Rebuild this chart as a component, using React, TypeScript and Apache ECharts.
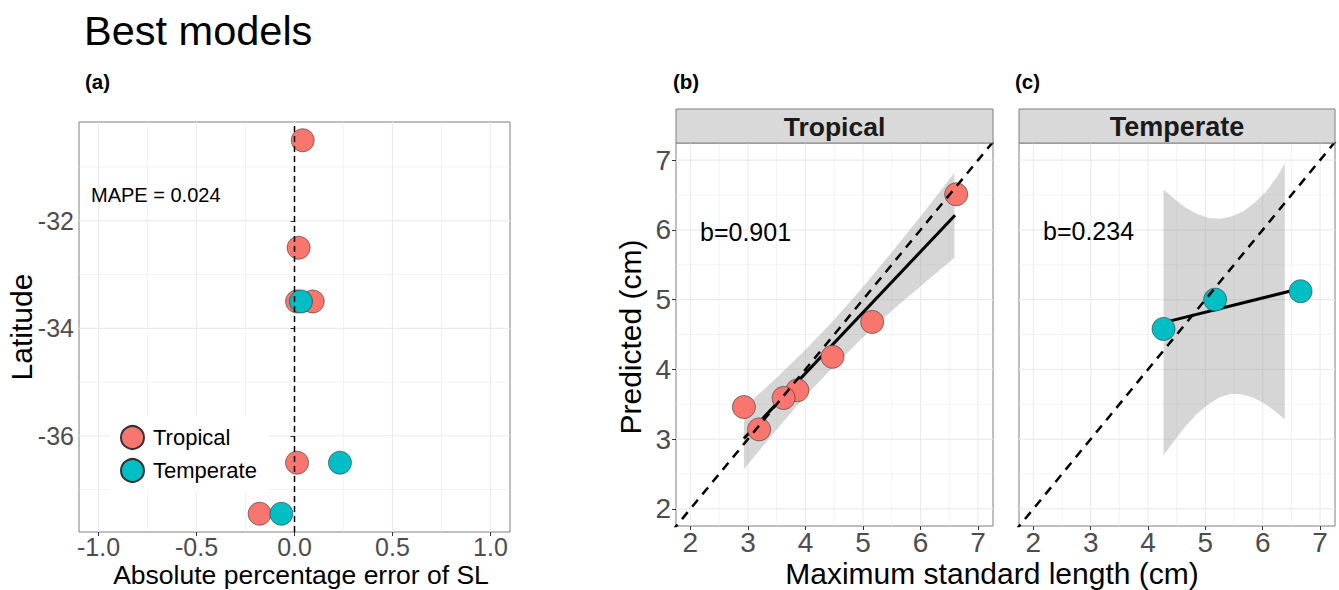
import React, { useEffect, useRef } from "react";
import * as echarts from "echarts";

const FONT = "'Liberation Sans', Arial, Helvetica, sans-serif";
const TROP = "#F8766D";
const TEMP = "#00BFC4";

// ---------- Panel (a) ----------
const aTropicalError = [0.042, 0.021, 0.013, 0.093, 0.013, -0.178];
const aTropicalLat = [-30.5, -32.5, -33.5, -33.5, -36.5, -37.45];
const aTemperateError = [0.033, 0.232, -0.067];
const aTemperateLat = [-33.5, -36.5, -37.45];
const aXRange = [-1.1, 1.1];
const aYRange = [-37.79, -30.16];
const aXTicks = [-1, -0.5, 0, 0.5, 1];
const aXMinor = [-0.75, -0.25, 0.25, 0.75];
const aYTicks = [-36, -34, -32];
const aYMinor = [-37, -35, -33, -31];
const aZeroLine = 0;

// ---------- Panel (b) Tropical ----------
const bObserved = [2.93, 3.195, 3.86, 3.62, 4.47, 5.16, 6.62];
const bPredicted = [3.46, 3.14, 3.7, 3.59, 4.18, 4.68, 6.51];
const bFitX = [2.93, 6.6];
const bFitY = [3.01, 6.21];
const bBandX = [2.93, 3.5, 4.0, 4.5, 5.0, 5.5, 6.0, 6.59];
const bBandUpper = [3.45, 3.88, 4.28, 4.71, 5.18, 5.68, 6.19, 6.82];
const bBandLower = [2.57, 3.14, 3.62, 4.05, 4.46, 4.84, 5.19, 5.6];

// ---------- Panel (c) Temperate ----------
const cObserved = [4.27, 5.17, 6.66];
const cPredicted = [4.58, 5.0, 5.12];
const cFitX = [4.27, 6.66];
const cFitY = [4.67, 5.16];
const cBandX = [4.27, 4.45, 4.65, 4.85, 5.05, 5.25, 5.45, 5.65, 5.85, 6.05, 6.25, 6.385];
const cBandUpper = [6.58, 6.45, 6.32, 6.23, 6.17, 6.16, 6.19, 6.26, 6.38, 6.54, 6.76, 6.95];
const cBandLower = [2.77, 2.97, 3.18, 3.36, 3.5, 3.6, 3.65, 3.64, 3.59, 3.5, 3.38, 3.28];

// shared length axes
const lenXRange = [1.75, 7.26];
const lenYRange = [1.755, 7.245];
const lenTicks = [2, 3, 4, 5, 6, 7];
const lenMinor = [2.5, 3.5, 4.5, 5.5, 6.5];
const identityEnds = [1.5, 7.5];

const gridLineSeries = (idx: number, vx: number[], vxMinor: number[], vy: number[], vyMinor: number[]) => ({
  type: "custom",
  xAxisIndex: idx,
  yAxisIndex: idx,
  z: 0,
  silent: true,
  data: [
    ...vx.map((v) => [v, 1, 0]),
    ...vxMinor.map((v) => [v, 0, 0]),
    ...vy.map((v) => [v, 1, 1]),
    ...vyMinor.map((v) => [v, 0, 1]),
  ],
  renderItem: (params: any, api: any) => {
    const cs = params.coordSys;
    const v = api.value(0);
    const major = api.value(1);
    const horiz = api.value(2);
    const p = api.coord([v, v]);
    const shape = horiz
      ? { x1: cs.x, y1: p[1], x2: cs.x + cs.width, y2: p[1] }
      : { x1: p[0], y1: cs.y, x2: p[0], y2: cs.y + cs.height };
    return {
      type: "line",
      shape,
      style: { stroke: "#EBEBEB", lineWidth: major ? 1.1 : 0.6 },
    };
  },
});

const ribbonSeries = (idx: number, xs: number[], up: number[], lo: number[]) => ({
  type: "custom",
  xAxisIndex: idx,
  yAxisIndex: idx,
  z: 1,
  silent: true,
  data: xs.map((x, i) => [x, up[i], lo[i]]),
  renderItem: (params: any, api: any) => {
    if (params.dataIndex !== 0) return null;
    const pts: number[][] = [];
    for (let i = 0; i < xs.length; i++) pts.push(api.coord([xs[i], up[i]]));
    for (let i = xs.length - 1; i >= 0; i--) pts.push(api.coord([xs[i], lo[i]]));
    return {
      type: "polygon",
      shape: { points: pts },
      style: { fill: "rgba(153,153,153,0.4)" },
    };
  },
});

const axisCommon = (
  ticks: number[],
  fmt: (v: number) => string,
  size: number,
  margin: number,
  showLabels = true
) => ({
  type: "value",
  axisLine: { show: false },
  splitLine: { show: false },
  axisTick: {
    show: showLabels,
    length: 4,
    customValues: ticks,
    lineStyle: { color: "#333333", width: 1 },
  },
  axisLabel: {
    show: showLabels,
    customValues: ticks,
    formatter: (v: number) => fmt(v),
    fontSize: size,
    lineHeight: size - 1,
    color: "#4D4D4D",
    fontFamily: FONT,
    margin,
  },
});

const gridStyle = {
  show: true,
  borderColor: "#7f7f7f",
  borderWidth: 1,
  backgroundColor: "#fff",
  containLabel: false,
  outerBoundsMode: "none",
};

const scatterStyle = (color: string) => ({
  color,
  opacity: 1,
  borderColor: "#333333",
  borderWidth: 0.6,
});

const text = (t: string, x: number, y: number, size: number, opts: any = {}) => ({
  type: "text",
  x,
  y,
  rotation: opts.rotation || 0,
  z: 100,
  style: {
    text: t,
    fontSize: size,
    lineHeight: Math.round(size * 0.92),
    fontFamily: FONT,
    fontWeight: opts.bold ? "bold" : "normal",
    fill: opts.fill || "#000",
    align: opts.align || "left",
    verticalAlign: "middle",
  },
});

const option: any = {
  animation: false,
  backgroundColor: "#fff",
  textStyle: { fontFamily: FONT },
  grid: [
    { ...gridStyle, left: 79, top: 122, width: 431, height: 410 },
    { ...gridStyle, left: 676, top: 143, width: 317, height: 383 },
    { ...gridStyle, left: 1019, top: 143, width: 316, height: 383 },
  ],
  xAxis: [
    { gridIndex: 0, min: aXRange[0], max: aXRange[1], ...axisCommon(aXTicks, (v) => v.toFixed(1), 25, 3) },
    { gridIndex: 1, min: lenXRange[0], max: lenXRange[1], ...axisCommon(lenTicks, (v) => String(v), 28, 3) },
    { gridIndex: 2, min: lenXRange[0], max: lenXRange[1], ...axisCommon(lenTicks, (v) => String(v), 28, 3) },
  ],
  yAxis: [
    { gridIndex: 0, min: aYRange[0], max: aYRange[1], ...axisCommon(aYTicks, (v) => String(v), 25, 5) },
    { gridIndex: 1, min: lenYRange[0], max: lenYRange[1], ...axisCommon(lenTicks, (v) => String(v), 28, 5) },
    { gridIndex: 2, min: lenYRange[0], max: lenYRange[1], ...axisCommon(lenTicks, (v) => String(v), 28, 5, false) },
  ],
  legend: {
    data: [
      { name: "Tropical", icon: "circle" },
      { name: "Temperate", icon: "circle" },
    ],
    orient: "vertical",
    left: 110,
    top: 416,
    itemWidth: 23,
    itemHeight: 23,
    itemGap: 8,
    padding: [9, 12, 9, 10],
    backgroundColor: "#fff",
    selectedMode: false,
    textStyle: { fontSize: 22, fontFamily: FONT, color: "#000", padding: [0, 0, 0, 4] },
  },
  series: [
    gridLineSeries(0, aXTicks, aXMinor, aYTicks, aYMinor),
    gridLineSeries(1, lenTicks, lenMinor, lenTicks, lenMinor),
    gridLineSeries(2, lenTicks, lenMinor, lenTicks, lenMinor),
    ribbonSeries(1, bBandX, bBandUpper, bBandLower),
    ribbonSeries(2, cBandX, cBandUpper, cBandLower),
    {
      type: "line",
      xAxisIndex: 1,
      yAxisIndex: 1,
      z: 2,
      silent: true,
      symbol: "none",
      data: bFitX.map((x, i) => [x, bFitY[i]]),
      lineStyle: { color: "#000", width: 3 },
    },
    {
      type: "line",
      xAxisIndex: 2,
      yAxisIndex: 2,
      z: 2,
      silent: true,
      symbol: "none",
      data: cFitX.map((x, i) => [x, cFitY[i]]),
      lineStyle: { color: "#000", width: 3 },
    },
    {
      name: "Tropical",
      type: "scatter",
      xAxisIndex: 0,
      yAxisIndex: 0,
      z: 3,
      symbolSize: 23,
      data: aTropicalError.map((x, i) => [x, aTropicalLat[i]]),
      itemStyle: scatterStyle(TROP),
    },
    {
      name: "Temperate",
      type: "scatter",
      xAxisIndex: 0,
      yAxisIndex: 0,
      z: 3,
      symbolSize: 23,
      data: aTemperateError.map((x, i) => [x, aTemperateLat[i]]),
      itemStyle: scatterStyle(TEMP),
    },
    {
      name: "Tropical",
      type: "scatter",
      xAxisIndex: 1,
      yAxisIndex: 1,
      z: 3,
      symbolSize: 23,
      data: bObserved.map((x, i) => [x, bPredicted[i]]),
      itemStyle: scatterStyle(TROP),
    },
    {
      name: "Temperate",
      type: "scatter",
      xAxisIndex: 2,
      yAxisIndex: 2,
      z: 3,
      symbolSize: 23,
      data: cObserved.map((x, i) => [x, cPredicted[i]]),
      itemStyle: scatterStyle(TEMP),
    },
    {
      type: "line",
      xAxisIndex: 0,
      yAxisIndex: 0,
      z: 4,
      silent: true,
      symbol: "none",
      clip: true,
      data: [
        [aZeroLine, aYRange[0]],
        [aZeroLine, aYRange[1]],
      ],
      lineStyle: { color: "#000", width: 1.5, type: [6, 4] },
    },
    {
      type: "line",
      xAxisIndex: 1,
      yAxisIndex: 1,
      z: 4,
      silent: true,
      symbol: "none",
      clip: true,
      data: identityEnds.map((v) => [v, v]),
      lineStyle: { color: "#000", width: 2.5, type: [9, 7] },
    },
    {
      type: "line",
      xAxisIndex: 2,
      yAxisIndex: 2,
      z: 4,
      silent: true,
      symbol: "none",
      clip: true,
      data: identityEnds.map((v) => [v, v]),
      lineStyle: { color: "#000", width: 2.5, type: [9, 7] },
    },
  ],
  graphic: [
    text("Best models", 84, 30, 41.5),
    text("(a)", 85, 81, 20.5, { bold: true }),
    text("(b)", 673, 81, 20.5, { bold: true }),
    text("(c)", 1015, 81, 20.5, { bold: true }),
    {
      type: "rect",
      z: 50,
      shape: { x: 676, y: 109, width: 317, height: 34 },
      style: { fill: "#D9D9D9", stroke: "#7f7f7f", lineWidth: 1 },
    },
    {
      type: "rect",
      z: 50,
      shape: { x: 1019, y: 109, width: 316, height: 34 },
      style: { fill: "#D9D9D9", stroke: "#7f7f7f", lineWidth: 1 },
    },
    text("Tropical", 834.5, 127, 26.5, { bold: true, align: "center", fill: "#1A1A1A" }),
    text("Temperate", 1177, 127, 27, { bold: true, align: "center", fill: "#1A1A1A" }),
    text("MAPE = 0.024", 91, 195, 20),
    text("b=0.901", 700, 232, 25),
    text("b=0.234", 1043, 231, 25),
    text("Absolute percentage error of SL", 301, 575, 26.5, { align: "center" }),
    text("Latitude", 21, 327, 30, { align: "center", rotation: Math.PI / 2 }),
    text("Predicted (cm)", 630, 337, 30, { align: "center", rotation: Math.PI / 2 }),
    text("Maximum standard length (cm)", 992, 573, 30, { align: "center" }),
  ],
};

export default function App() {
  const ref = useRef<HTMLDivElement>(null);
  useEffect(() => {
    if (!ref.current) return;
    const chart = echarts.init(ref.current, null, { renderer: "svg" });
    chart.setOption(option);
    return () => chart.dispose();
  }, []);
  return (
    <div
      ref={ref}
      style={{ position: "fixed", left: 0, top: 0, width: 1339, height: 590, background: "#fff" }}
    />
  );
}
